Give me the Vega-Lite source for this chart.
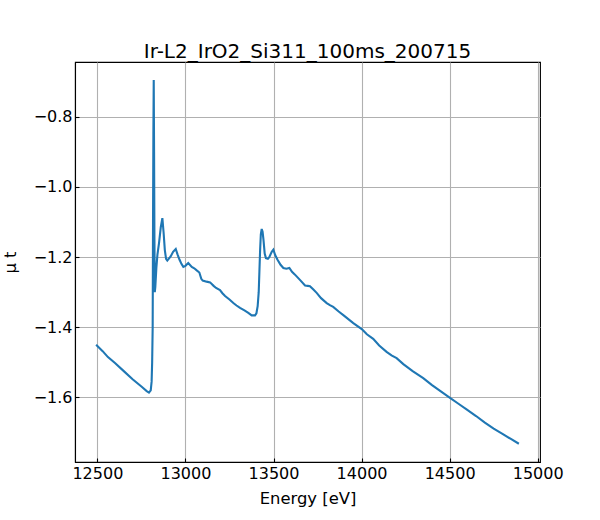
{
  "$schema": "https://vega.github.io/schema/vega-lite/v6.json",
  "width": 465,
  "height": 400,
  "autosize": "none",
  "padding": {"left": 75, "top": 62, "right": 60, "bottom": 58},
  "title": {
    "text": "Ir-L2_IrO2_Si311_100ms_200715",
    "font": "DejaVu Sans",
    "fontSize": 20,
    "fontWeight": "normal",
    "color": "#000000",
    "offset": 0
  },
  "data": {
    "values": [
      {"energy": 12493, "mut": -1.450},
      {"energy": 12530, "mut": -1.468},
      {"energy": 12560, "mut": -1.485},
      {"energy": 12600, "mut": -1.502},
      {"energy": 12650, "mut": -1.525},
      {"energy": 12700, "mut": -1.548},
      {"energy": 12750, "mut": -1.569},
      {"energy": 12780, "mut": -1.582},
      {"energy": 12793, "mut": -1.586},
      {"energy": 12803, "mut": -1.580},
      {"energy": 12808, "mut": -1.555},
      {"energy": 12811, "mut": -1.500},
      {"energy": 12814, "mut": -1.400},
      {"energy": 12816, "mut": -1.100},
      {"energy": 12818, "mut": -0.850},
      {"energy": 12820, "mut": -0.695},
      {"energy": 12822, "mut": -0.900},
      {"energy": 12824, "mut": -1.150},
      {"energy": 12826, "mut": -1.300},
      {"energy": 12829, "mut": -1.285},
      {"energy": 12835, "mut": -1.230},
      {"energy": 12841, "mut": -1.193},
      {"energy": 12850, "mut": -1.160},
      {"energy": 12860, "mut": -1.115},
      {"energy": 12869, "mut": -1.089},
      {"energy": 12876, "mut": -1.130},
      {"energy": 12883, "mut": -1.180},
      {"energy": 12890, "mut": -1.205},
      {"energy": 12897, "mut": -1.210},
      {"energy": 12916, "mut": -1.198},
      {"energy": 12930, "mut": -1.185},
      {"energy": 12945, "mut": -1.177},
      {"energy": 12955, "mut": -1.192},
      {"energy": 12966, "mut": -1.207},
      {"energy": 12978, "mut": -1.220},
      {"energy": 12988, "mut": -1.228},
      {"energy": 13000, "mut": -1.225},
      {"energy": 13016, "mut": -1.217},
      {"energy": 13036, "mut": -1.228},
      {"energy": 13050, "mut": -1.232},
      {"energy": 13064, "mut": -1.238},
      {"energy": 13079, "mut": -1.244},
      {"energy": 13090, "mut": -1.262},
      {"energy": 13098, "mut": -1.267},
      {"energy": 13120, "mut": -1.270},
      {"energy": 13140, "mut": -1.272},
      {"energy": 13160, "mut": -1.282},
      {"energy": 13174, "mut": -1.288},
      {"energy": 13196, "mut": -1.294},
      {"energy": 13210, "mut": -1.303},
      {"energy": 13225, "mut": -1.311},
      {"energy": 13250, "mut": -1.321},
      {"energy": 13272, "mut": -1.331},
      {"energy": 13290, "mut": -1.338},
      {"energy": 13310, "mut": -1.345},
      {"energy": 13335, "mut": -1.352},
      {"energy": 13357, "mut": -1.359},
      {"energy": 13376, "mut": -1.366},
      {"energy": 13395, "mut": -1.366},
      {"energy": 13403, "mut": -1.360},
      {"energy": 13410, "mut": -1.340},
      {"energy": 13416, "mut": -1.300},
      {"energy": 13420, "mut": -1.240},
      {"energy": 13424, "mut": -1.180},
      {"energy": 13428, "mut": -1.135},
      {"energy": 13433, "mut": -1.120},
      {"energy": 13438, "mut": -1.128},
      {"energy": 13443, "mut": -1.150},
      {"energy": 13450, "mut": -1.190},
      {"energy": 13457, "mut": -1.203},
      {"energy": 13468, "mut": -1.205},
      {"energy": 13476, "mut": -1.200},
      {"energy": 13490, "mut": -1.185},
      {"energy": 13499, "mut": -1.179},
      {"energy": 13510, "mut": -1.195},
      {"energy": 13522, "mut": -1.207},
      {"energy": 13540, "mut": -1.222},
      {"energy": 13556, "mut": -1.231},
      {"energy": 13573, "mut": -1.233},
      {"energy": 13590, "mut": -1.231},
      {"energy": 13605, "mut": -1.242},
      {"energy": 13622, "mut": -1.250},
      {"energy": 13650, "mut": -1.265},
      {"energy": 13679, "mut": -1.281},
      {"energy": 13695, "mut": -1.282},
      {"energy": 13707, "mut": -1.283},
      {"energy": 13725, "mut": -1.292},
      {"energy": 13745, "mut": -1.302},
      {"energy": 13770, "mut": -1.317},
      {"energy": 13802, "mut": -1.331},
      {"energy": 13820, "mut": -1.337},
      {"energy": 13839, "mut": -1.342},
      {"energy": 13870, "mut": -1.355},
      {"energy": 13900, "mut": -1.367},
      {"energy": 13953, "mut": -1.388},
      {"energy": 14001, "mut": -1.405},
      {"energy": 14030, "mut": -1.420},
      {"energy": 14066, "mut": -1.433},
      {"energy": 14100, "mut": -1.452},
      {"energy": 14142, "mut": -1.470},
      {"energy": 14170, "mut": -1.480},
      {"energy": 14199, "mut": -1.488},
      {"energy": 14237, "mut": -1.505},
      {"energy": 14290, "mut": -1.525},
      {"energy": 14350, "mut": -1.545},
      {"energy": 14400, "mut": -1.565},
      {"energy": 14450, "mut": -1.583},
      {"energy": 14502, "mut": -1.601},
      {"energy": 14550, "mut": -1.618},
      {"energy": 14596, "mut": -1.634},
      {"energy": 14650, "mut": -1.653},
      {"energy": 14700, "mut": -1.672},
      {"energy": 14750, "mut": -1.689},
      {"energy": 14800, "mut": -1.704},
      {"energy": 14850, "mut": -1.719},
      {"energy": 14893, "mut": -1.732}
    ]
  },
  "mark": {"type": "line", "color": "#1f77b4", "strokeWidth": 2.1, "interpolate": "linear"},
  "encoding": {
    "x": {
      "field": "energy",
      "type": "quantitative",
      "title": "Energy [eV]",
      "scale": {"domain": [12373, 15013], "nice": false, "zero": false},
      "axis": {"values": [12500, 13000, 13500, 14000, 14500, 15000], "format": "d"}
    },
    "y": {
      "field": "mut",
      "type": "quantitative",
      "title": "μ t",
      "scale": {"domain": [-1.784, -0.644], "nice": false, "zero": false},
      "axis": {"values": [-1.6, -1.4, -1.2, -1.0, -0.8], "format": ".1f"}
    }
  },
  "config": {
    "font": "DejaVu Sans",
    "view": {"stroke": "#000000", "strokeWidth": 1.1},
    "axis": {
      "domainColor": "#000000",
      "domainWidth": 1.1,
      "grid": true,
      "gridColor": "#b0b0b0",
      "gridWidth": 1.1,
      "gridOpacity": 1,
      "ticks": true,
      "tickColor": "#000000",
      "tickSize": -4,
      "tickWidth": 1.1,
      "labelFont": "DejaVu Sans",
      "labelFontSize": 16,
      "labelColor": "#000000",
      "labelPadding": 7,
      "titleFont": "DejaVu Sans",
      "titleFontSize": 16.4,
      "titleFontWeight": "normal",
      "titleColor": "#000000"
    },
    "axisX": {"titlePadding": 9},
    "axisY": {"titlePadding": 15}
  }
}
